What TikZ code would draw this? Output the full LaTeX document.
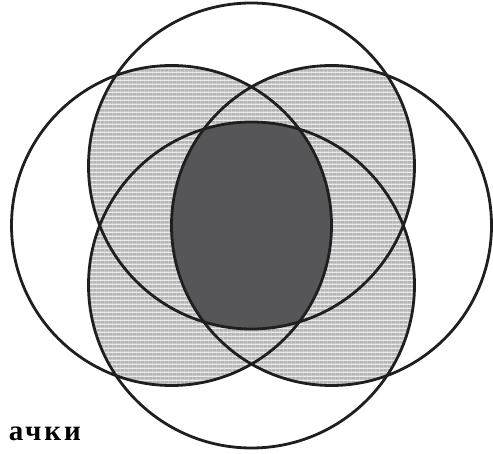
\documentclass[tikz,border=0pt]{standalone}
\usepackage{fontspec}
\newfontfamily\labelfont[LetterSpace=10]{Liberation Serif}
\usetikzlibrary{patterns.meta}
\tikzdeclarepattern{name=dotbrick, type=colored,
  bounding box={(0pt,0pt) and (4.4pt,3.7pt)}, tile size={(4.4pt,3.7pt)},
  code={\fill[gray!58] (0.5pt,0.5pt) rectangle (3.7pt,3.0pt);}}
\definecolor{darkcore}{RGB}{86,86,88}
\tikzset{
  ring/.style={draw=black!88, line width=2.8pt},
  lightfill/.style={fill=gray!16},
  dotfill/.style={pattern={dotbrick}},
}
\begin{document}
\begin{tikzpicture}[x=1pt,y=-1pt]
\useasboundingbox (0,0) rectangle (493,454);
\coordinate (L) at (171.5,225.5);
\coordinate (R) at (331.5,225.5);
\coordinate (T) at (251.5,166);
\coordinate (B) at (251.5,285);
\def\rh{160pt}
\def\rv{163pt}
% pairwise intersections (light dotted)
\foreach \a/\ra/\b/\rb in {L/\rh/R/\rh, L/\rh/T/\rv, L/\rh/B/\rv, R/\rh/T/\rv, R/\rh/B/\rv, T/\rv/B/\rv}{
  \begin{scope}
    \clip (\a) circle[radius=\ra];
    \fill[lightfill] (\b) circle[radius=\rb];
    \fill[dotfill] (\b) circle[radius=\rb];
  \end{scope}
}
% intersection of all four (dark)
\begin{scope}
  \clip (L) circle[radius=\rh];
  \clip (R) circle[radius=\rh];
  \clip (T) circle[radius=\rv];
  \fill[darkcore] (B) circle[radius=\rv];
\end{scope}
% outlines
\draw[ring] (L) circle[radius=\rh];
\draw[ring] (R) circle[radius=\rh];
\draw[ring] (T) circle[radius=\rv];
\draw[ring] (B) circle[radius=\rv];
\node[anchor=base east, inner sep=0pt, font=\labelfont\bfseries\fontsize{29}{32}\selectfont] (lbl) at (81,440) {ачки};
\end{tikzpicture}
\end{document}
